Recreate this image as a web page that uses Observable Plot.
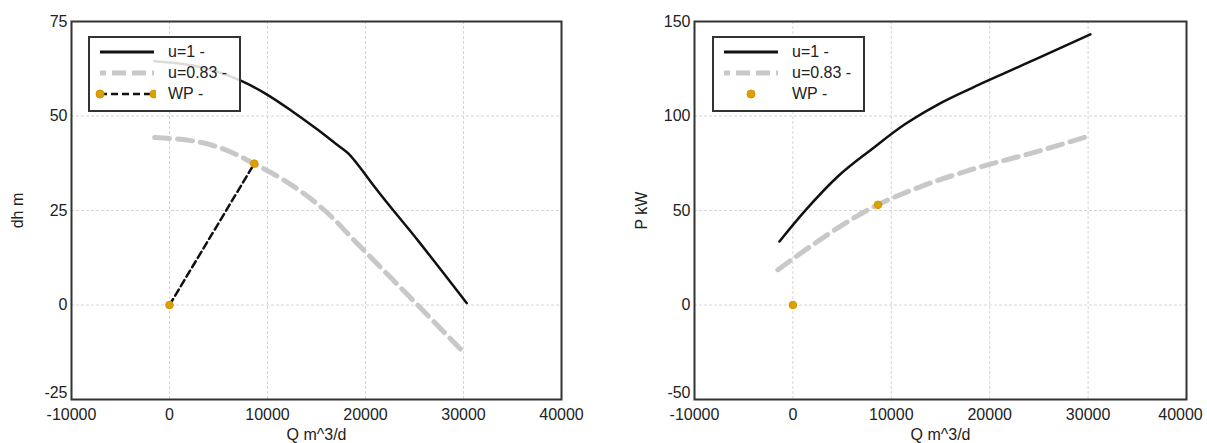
<!DOCTYPE html>
<html><head><meta charset="utf-8">
<script src="https://cdn.jsdelivr.net/npm/d3@7"></script>
<script src="https://cdn.jsdelivr.net/npm/@observablehq/plot@0.6"></script>
<style>
body{margin:0;background:#fff;font-family:"Liberation Sans",Arial,sans-serif;}
#wrap{position:relative;width:1207px;height:443px;overflow:hidden;}
.panel{position:absolute;top:0;}
.legend{position:absolute;background:rgba(255,255,255,0.85);border:2px solid #333;box-sizing:border-box;font:16px "Liberation Sans",Arial,sans-serif;color:#222;}
.legend .row{position:absolute;left:0;height:20px;display:flex;align-items:center;}
.legend .row svg{flex:none;}
.legend .row span{margin-left:12px;}
</style></head>
<body><div id="wrap"></div>
<script>
// ---- data ----
const xTicks = [-10000, 0, 10000, 20000, 30000, 40000];
const dhTicks = [-25, 0, 25, 50, 75];
const pTicks = [-50, 0, 50, 100, 150];
const seriesNames = ["u=1 -", "u=0.83 -", "WP -"];

// head curves (dh, m)
const dhQ1 = [-1560, 2500, 5000, 7330, 10000, 12440, 15000, 17000, 18240, 19500, 20940, 25400, 30330];
const dh1  = [64.5, 63.3, 61.6, 59.3, 55.6, 51.4, 46.6, 42.6, 40.1, 36.2, 31.2, 16.9, 0.5];
const dhQ2 = [-1520, 3240, 5970, 8690, 11760, 15850, 19260, 22670, 26070, 30000];
const dh2  = [44.3, 43.0, 40.8, 37.3, 32.9, 25.0, 16.0, 7.0, -2.0, -12.5];

// power curves (P, kW)
const pQ1 = [-1370, 1180, 4590, 7980, 11380, 14780, 18180, 21570, 24970, 30230];
const p1  = [33.6, 49.5, 68.1, 82.3, 95.6, 106.2, 114.8, 122.8, 130.8, 143.2];
const pQ2 = [-1530, 340, 8660, 13080, 18180, 24970, 30070];
const p2  = [18.6, 25.7, 53.1, 62.8, 71.7, 81.4, 89.4];

// working point
const wpQ  = [0, 8650];
const wpDh = [0, 37.4];
const wpP  = [0, 53.0];

const toRows = (xs, ys) => xs.map((x, i) => ({x, y: ys[i]}));

const GRAY = "#c8c8c8", WPFILL = "#d4a500", WPSTROKE = "#e88a00";
const FONT = "Liberation Sans, Arial, sans-serif";

function makePlot(opts) {
  const yt = opts.yticks;
  const xMain = opts.shiftLast ? xTicks.slice(0, -1) : xTicks;
  const xAxisOpts = {tickFormat: d => String(d), fontSize: 16, tickSize: 0, tickPadding: 9};
  return Plot.plot({
    width: opts.width, height: 443,
    marginLeft: opts.ml, marginRight: opts.mr, marginTop: 21, marginBottom: 44,
    style: {fontFamily: FONT, fontSize: "15px", color: "#222", background: "#fff"},
    x: {domain: [-10000, 40000], label: "Q m^3/d"},
    y: {domain: opts.ydomain, label: opts.ylabel},
    marks: [
      Plot.gridX(xTicks, {stroke: "#bbb", strokeOpacity: 0.6, strokeDasharray: "3,2"}),
      Plot.gridY(yt, {stroke: "#bbb", strokeOpacity: 0.6, strokeDasharray: "3,2"}),
      Plot.axisX(xMain, {...xAxisOpts, label: "Q m^3/d", labelAnchor: "center", labelArrow: "none", labelOffset: 40}),
      opts.shiftLast ? Plot.axisX(xTicks.slice(-1), {...xAxisOpts, dx: -6, label: null}) : null,
      Plot.axisY(yt.slice(1), {tickFormat: d => String(d), fontSize: 16, tickSize: 0, tickPadding: 4, label: opts.ylabel, labelAnchor: "center", labelArrow: "none", labelOffset: opts.ylabOff}),
      Plot.axisY(yt.slice(0, 1), {tickFormat: d => String(d), fontSize: 16, tickSize: 0, tickPadding: 4, dy: -7, label: null}),
      ...opts.marks,
      Plot.frame({stroke: "#333", strokeWidth: 2})
    ]
  });
}

const wrap = document.getElementById("wrap");

// left panel
const left = makePlot({
  width: 603, ml: 71, mr: 42, ydomain: [-25, 75], yticks: dhTicks, ylabel: "dh m", ylabOff: 60,
  marks: [
    Plot.line(toRows(dhQ2, dh2), {x: "x", y: "y", stroke: GRAY, strokeWidth: 5, strokeDasharray: "15,8", curve: "monotone-x"}),
    Plot.line(toRows(dhQ1, dh1), {x: "x", y: "y", stroke: "#111", strokeWidth: 2.5, curve: "monotone-x"}),
    Plot.line(toRows(wpQ, wpDh), {x: "x", y: "y", stroke: "#111", strokeWidth: 2.5, strokeDasharray: "7,4"}),
    Plot.dot(toRows(wpQ, wpDh), {x: "x", y: "y", r: 3.8, fill: WPFILL, stroke: WPSTROKE, strokeWidth: 1})
  ]
});
const lp = document.createElement("div"); lp.className = "panel"; lp.style.left = "0px"; lp.appendChild(left); wrap.appendChild(lp);

// right panel
const right = makePlot({
  width: 604, ml: 91, mr: 21, ydomain: [-50, 150], yticks: pTicks, ylabel: "P kW", ylabOff: 59, shiftLast: true,
  marks: [
    Plot.line(toRows(pQ2, p2), {x: "x", y: "y", stroke: GRAY, strokeWidth: 5, strokeDasharray: "15,8", curve: "monotone-x"}),
    Plot.line(toRows(pQ1, p1), {x: "x", y: "y", stroke: "#111", strokeWidth: 2.5, curve: "monotone-x"}),
    Plot.dot(toRows(wpQ, wpP), {x: "x", y: "y", r: 3.8, fill: WPFILL, stroke: WPSTROKE, strokeWidth: 1})
  ]
});
const rp = document.createElement("div"); rp.className = "panel"; rp.style.left = "603px"; rp.appendChild(right); wrap.appendChild(rp);

// legends
function swatch(kind) {
  const ns = "http://www.w3.org/2000/svg";
  const s = document.createElementNS(ns, "svg");
  s.setAttribute("width", 62); s.setAttribute("height", 20);
  const line = (dash, col, w) => {
    const l = document.createElementNS(ns, "line");
    l.setAttribute("x1", 6); l.setAttribute("x2", 60); l.setAttribute("y1", 10); l.setAttribute("y2", 10);
    l.setAttribute("stroke", col); l.setAttribute("stroke-width", w);
    if (dash) l.setAttribute("stroke-dasharray", dash);
    s.appendChild(l);
  };
  const dot = cx => {
    const c = document.createElementNS(ns, "circle");
    c.setAttribute("cx", cx); c.setAttribute("cy", 10); c.setAttribute("r", 4);
    c.setAttribute("fill", WPFILL); c.setAttribute("stroke", WPSTROKE);
    s.appendChild(c);
  };
  if (kind === 0) line(null, "#111", 3);
  if (kind === 1) line("6,6,14,6,14,6,6", GRAY, 5);
  if (kind === 2) { line("7,4", "#111", 2.5); dot(6); dot(60); }
  if (kind === 3) { dot(33); }
  return s;
}
function legend(x, y, w, kinds) {
  const d = document.createElement("div"); d.className = "legend";
  d.style.left = x + "px"; d.style.top = y + "px"; d.style.width = w + "px"; d.style.height = "76px";
  kinds.forEach((k, i) => {
    const r = document.createElement("div"); r.className = "row";
    r.style.top = (4 + i * 21) + "px"; r.style.left = "4px";
    r.appendChild(swatch(k));
    const t = document.createElement("span"); t.textContent = seriesNames[i];
    r.appendChild(t); d.appendChild(r);
  });
  wrap.appendChild(d);
}
legend(88, 36, 153, [0, 1, 2]);
legend(712, 36, 153, [0, 1, 3]);
</script></body></html>
